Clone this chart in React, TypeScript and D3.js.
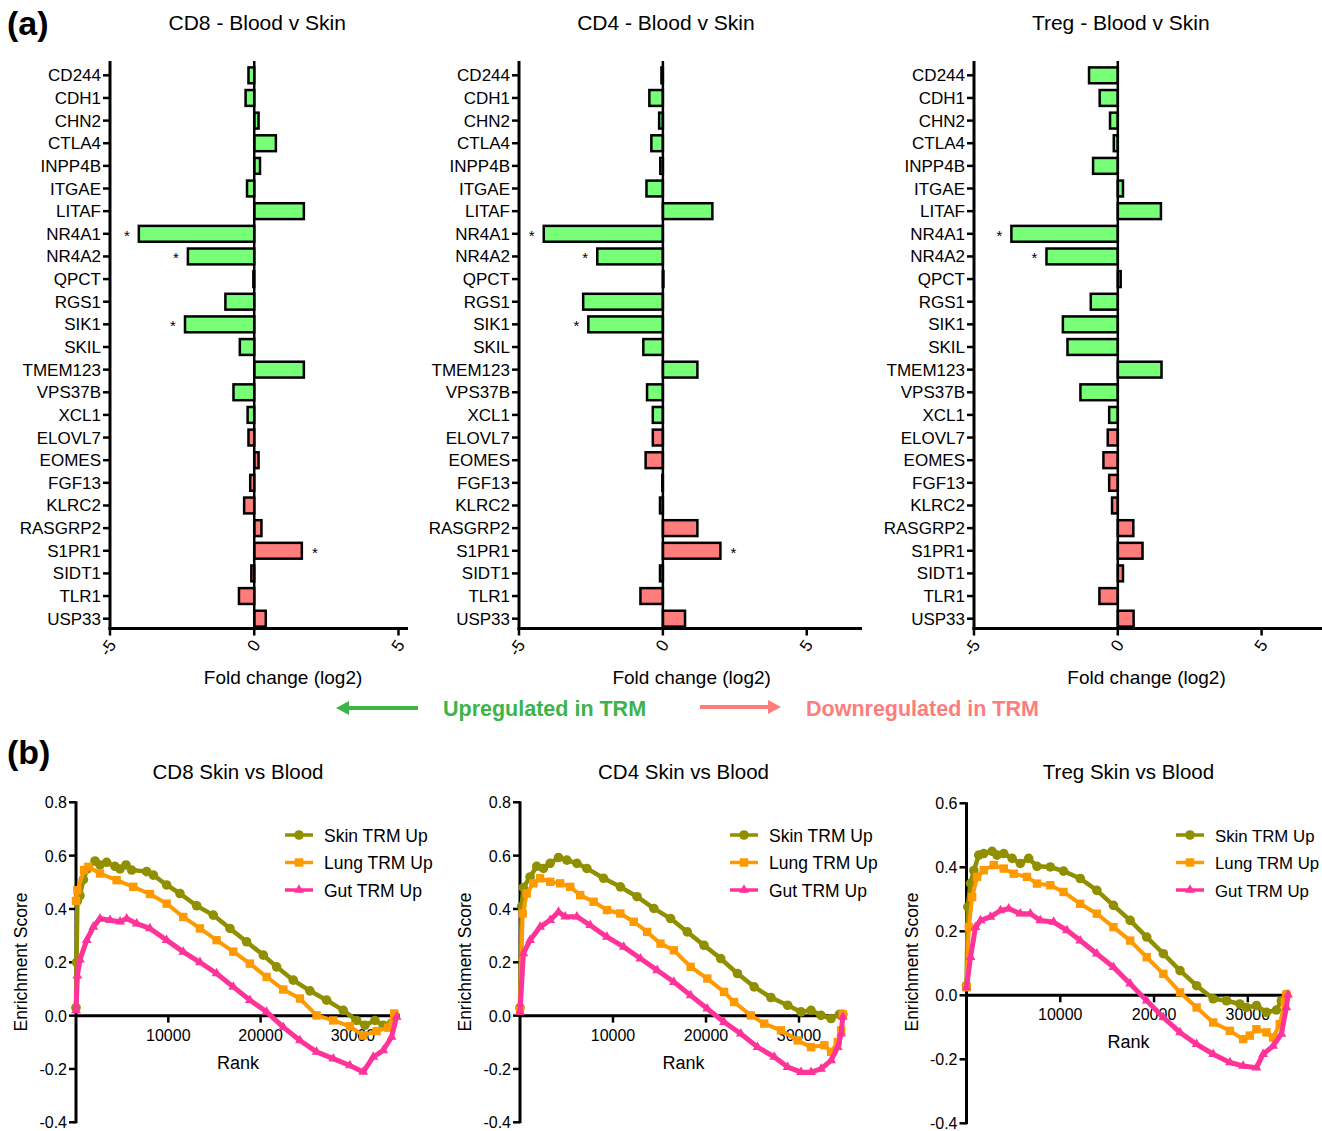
import React from 'react';
import * as d3 from 'd3';

const FONT = "'Liberation Sans', Arial, Helvetica, sans-serif";

// ---------- Panel (a) data ----------
const genes = ['CD244','CDH1','CHN2','CTLA4','INPP4B','ITGAE','LITAF','NR4A1','NR4A2','QPCT','RGS1','SIK1','SKIL','TMEM123','VPS37B','XCL1','ELOVL7','EOMES','FGF13','KLRC2','RASGRP2','S1PR1','SIDT1','TLR1','USP33'];
const upGenes = ['CD244','CDH1','CHN2','CTLA4','INPP4B','ITGAE','LITAF','NR4A1','NR4A2','QPCT','RGS1','SIK1','SKIL','TMEM123','VPS37B','XCL1'];
const cd8FC = [-0.2,-0.3,0.15,0.75,0.2,-0.25,1.72,-4.0,-2.3,-0.03,-1.0,-2.4,-0.5,1.72,-0.72,-0.23,-0.2,0.15,-0.14,-0.35,0.25,1.65,-0.1,-0.53,0.4];
const cd4FC = [-0.05,-0.47,-0.13,-0.4,-0.09,-0.57,1.72,-4.14,-2.28,0.02,-2.77,-2.59,-0.68,1.2,-0.55,-0.35,-0.35,-0.6,-0.02,-0.1,1.2,2.0,-0.1,-0.78,0.77];
const tregFC = [-1.0,-0.63,-0.27,-0.14,-0.86,0.18,1.5,-3.7,-2.48,0.1,-0.94,-1.91,-1.75,1.52,-1.3,-0.3,-0.35,-0.5,-0.3,-0.2,0.54,0.86,0.18,-0.64,0.55];
const cd8Sig = ['NR4A1','NR4A2','SIK1','S1PR1'];
const cd4Sig = ['NR4A1','NR4A2','SIK1','S1PR1'];
const tregSig = ['NR4A1','NR4A2'];
const fcTicks = [-5, 0, 5];
const fcTickLabels = ['-5', '0', '5'];

// ---------- Panel (b) data: [rank, enrichment score] ----------
const cd8Skin: [number, number][] = [[0,0.03],[60,0.2],[150,0.43],[430,0.45],[800,0.51],[1230,0.55],[2060,0.58],[2600,0.565],[3320,0.575],[4220,0.56],[4770,0.55],[5420,0.565],[6030,0.546],[7650,0.54],[8380,0.527],[9820,0.49],[11260,0.458],[13070,0.412],[14870,0.377],[16680,0.327],[18480,0.277],[20290,0.227],[21730,0.183],[23540,0.133],[25340,0.093],[27150,0.058],[28950,0.02],[30400,-0.018],[31300,-0.036],[32380,-0.018],[33290,-0.036],[34190,-0.028],[34550,0.001]];
const cd8Lung: [number, number][] = [[0,0.43],[150,0.47],[870,0.546],[1340,0.558],[2600,0.533],[4400,0.508],[6210,0.483],[8010,0.456],[9820,0.42],[11620,0.37],[13430,0.327],[15230,0.283],[17040,0.24],[18840,0.195],[20650,0.145],[22450,0.098],[24260,0.064],[26060,0.001],[27870,-0.018],[29670,-0.04],[31120,-0.074],[32560,-0.058],[33830,-0.045],[34480,0.008]];
const cd8Gut: [number, number][] = [[0,0.02],[150,0.15],[430,0.21],[1160,0.283],[1880,0.333],[2600,0.364],[3680,0.358],[4770,0.352],[5490,0.364],[6570,0.345],[8010,0.327],[9820,0.283],[11620,0.239],[13430,0.2],[15230,0.158],[17040,0.108],[18840,0.058],[20650,0.014],[22450,-0.043],[24260,-0.093],[26060,-0.136],[27870,-0.161],[29670,-0.187],[31120,-0.211],[32200,-0.155],[33290,-0.13],[34190,-0.08],[34730,-0.005]];

const cd4Skin: [number, number][] = [[0,0.03],[180,0.41],[360,0.48],[1080,0.52],[1800,0.56],[2520,0.552],[3240,0.571],[4140,0.593],[5040,0.583],[6120,0.571],[7190,0.552],[8990,0.515],[10790,0.483],[12590,0.446],[14390,0.402],[16190,0.364],[17990,0.314],[19780,0.264],[21580,0.214],[23380,0.158],[25180,0.108],[26980,0.068],[28780,0.039],[30220,0.014],[31290,0.02],[32370,0.001],[33450,-0.011],[34350,0.005],[34710,0.005]];
const cd4Lung: [number, number][] = [[0,0.02],[290,0.383],[720,0.458],[1440,0.496],[2160,0.515],[3240,0.502],[4320,0.496],[5400,0.483],[6470,0.452],[7910,0.427],[9350,0.396],[10790,0.383],[12230,0.352],[13670,0.314],[15110,0.27],[16550,0.245],[18350,0.183],[20140,0.139],[21940,0.089],[23020,0.051],[24820,0.001],[26260,-0.03],[28060,-0.055],[29860,-0.093],[31290,-0.118],[32730,-0.111],[33450,-0.136],[34170,-0.099],[34530,-0.055],[34710,0.005]];
const cd4Gut: [number, number][] = [[0,0.014],[360,0.233],[1080,0.283],[2160,0.333],[3240,0.358],[4140,0.389],[4860,0.371],[6120,0.371],[7550,0.339],[9350,0.295],[11150,0.258],[12950,0.214],[14750,0.17],[16550,0.126],[18350,0.076],[20140,0.026],[21940,-0.024],[23740,-0.068],[25540,-0.118],[27340,-0.155],[28780,-0.193],[30220,-0.212],[31290,-0.212],[32370,-0.2],[33450,-0.168],[34170,-0.118],[34530,-0.068],[34710,-0.005]];

const tregSkin: [number, number][] = [[0,0.03],[140,0.276],[430,0.35],[780,0.39],[1310,0.438],[1840,0.443],[2730,0.45],[3260,0.438],[3970,0.443],[4860,0.428],[5740,0.412],[6630,0.428],[7520,0.403],[8940,0.401],[10350,0.388],[12130,0.365],[13900,0.328],[15670,0.281],[17450,0.234],[19220,0.182],[20990,0.13],[22770,0.077],[24540,0.03],[26310,-0.011],[27730,-0.017],[29150,-0.027],[29860,-0.038],[30920,-0.032],[31990,-0.053],[33050,-0.046],[33580,-0.017],[34110,0.002]];
const tregLung: [number, number][] = [[0,0.025],[250,0.213],[600,0.307],[1130,0.37],[1840,0.391],[2910,0.407],[3970,0.396],[5040,0.38],[6450,0.37],[7520,0.349],[8940,0.344],[10350,0.323],[12130,0.286],[13900,0.255],[15670,0.213],[17450,0.171],[19220,0.119],[20990,0.067],[22770,0.009],[24540,-0.038],[26310,-0.085],[28090,-0.111],[29500,-0.137],[30210,-0.126],[30920,-0.106],[31990,-0.116],[32700,-0.132],[33410,-0.09],[33940,-0.022],[34110,0.002]];
const tregGut: [number, number][] = [[0,0.025],[430,0.119],[960,0.213],[1490,0.234],[2550,0.245],[3620,0.265],[4500,0.271],[5740,0.255],[6810,0.255],[7870,0.234],[9290,0.229],[10710,0.203],[12130,0.171],[13900,0.13],[15670,0.088],[17450,0.036],[19220,-0.017],[20990,-0.069],[22770,-0.116],[24540,-0.153],[26310,-0.184],[28090,-0.21],[29500,-0.221],[30920,-0.226],[31630,-0.184],[32700,-0.158],[33580,-0.121],[34110,-0.038],[34290,0.002]];

const seriesNames = ['Skin TRM Up', 'Lung TRM Up', 'Gut TRM Up'];
const rankTicks = [10000, 20000, 30000];
const esTicksA = [-0.4, -0.2, 0, 0.2, 0.4, 0.6, 0.8];
const esTicksB = [-0.4, -0.2, 0, 0.2, 0.4, 0.6];

// ---------- styles ----------
const GREEN = '#78ff78';
const RED = '#ff7c7c';
const GREEN_TXT = '#3cb44a';
const RED_TXT = '#ff7c7c';
const OLIVE = '#8f8f00';
const ORANGE = '#ff9900';
const PINK = '#ff3399';
const COLORS = [OLIVE, ORANGE, PINK];
const SHAPES = ['circle', 'square', 'triangle'];
const LINE_W = [4.5, 4, 5];

function Marker({ shape, x, y, color }: { shape: string; x: number; y: number; color: string }) {
  if (shape === 'circle') return <circle cx={x} cy={y} r={4.8} fill={color} />;
  if (shape === 'square') return <rect x={x - 4.2} y={y - 4.2} width={8.4} height={8.4} fill={color} />;
  const p = d3.symbol().type(d3.symbolTriangle).size(42)();
  return <path d={p || ''} transform={`translate(${x},${y})`} fill={color} />;
}

function BarPanel({ title, values, sig, range, domain }: { title: string; values: number[]; sig: string[]; range: [number, number]; domain: [number, number] }) {
  const x = d3.scaleLinear().domain(domain).range(range);
  const y = d3.scaleBand<string>().domain(genes).range([64, 630]).paddingInner(0.3).paddingOuter(0.15);
  const ax = x(-5);
  const axisY = 628.5;
  const top = 61;
  return (
    <g fontFamily={FONT}>
      <text x={x(0) + 3} y={30} textAnchor="middle" fontSize={21}>{title}</text>
      {genes.map((g, i) => {
        const v = values[i];
        const yy = y(g)!;
        const c = yy + y.bandwidth() / 2;
        return (
          <g key={g}>
            <rect x={x(Math.min(0, v))} y={yy} width={Math.abs(x(v) - x(0))} height={y.bandwidth()}
              fill={upGenes.includes(g) ? GREEN : RED} stroke="#000" strokeWidth={2.5} />
            <line x1={ax - 7} x2={ax} y1={c} y2={c} stroke="#000" strokeWidth={2.5} />
            <text x={ax - 9} y={c + 6} textAnchor="end" fontSize={17}>{g}</text>
            {sig.includes(g) && (
              <text x={v < 0 ? x(v) - 12 : x(v) + 13} y={c + 7} textAnchor="middle" fontSize={15}>*</text>
            )}
          </g>
        );
      })}
      <line x1={x(0)} x2={x(0)} y1={top} y2={axisY} stroke="#000" strokeWidth={2.5} />
      <line x1={ax} x2={ax} y1={top} y2={axisY + 1.5} stroke="#000" strokeWidth={3} />
      <line x1={ax - 1.5} x2={range[1]} y1={axisY} y2={axisY} stroke="#000" strokeWidth={3} />
      {fcTicks.map((t, i) => (
        <g key={t}>
          <line x1={x(t)} x2={x(t)} y1={axisY} y2={axisY + 7} stroke="#000" strokeWidth={2.5} />
          <text transform={`translate(${x(t) + 2},${axisY + 13}) rotate(-55)`} textAnchor="end" dy="0.35em" fontSize={17}>{fcTickLabels[i]}</text>
        </g>
      ))}
      <text x={x(1)} y={684} textAnchor="middle" fontSize={19}>Fold change (log2)</text>
    </g>
  );
}

function GseaPanel({ title, xr, xMax, yr, yDomain, yTicks, series, legendX, legendFont }: {
  title: string; xr: [number, number]; xMax: number; yr: [number, number]; yDomain: [number, number]; yTicks: number[];
  series: [number, number][][]; legendX: number; legendFont: number;
}) {
  const x = d3.scaleLinear().domain([0, xMax]).range(xr);
  const y = d3.scaleLinear().domain(yDomain).range(yr);
  const y0 = y(0);
  const line = d3.line<[number, number]>().x(d => x(d[0])).y(d => y(d[1]));
  const cx = (xr[0] + xr[1]) / 2;
  return (
    <g fontFamily={FONT}>
      <text x={cx} y={779} textAnchor="middle" fontSize={20.5}>{title}</text>
      {/* y axis */}
      <line x1={xr[0]} x2={xr[0]} y1={y(yDomain[1]) - 1} y2={y(yDomain[0]) + 1} stroke="#000" strokeWidth={3} />
      {yTicks.map(t => (
        <g key={t}>
          <line x1={xr[0] - 7} x2={xr[0]} y1={y(t)} y2={y(t)} stroke="#000" strokeWidth={2.5} />
          <text x={xr[0] - 9} y={y(t) + 6} textAnchor="end" fontSize={16}>{t.toFixed(1)}</text>
        </g>
      ))}
      {/* x axis */}
      <line x1={xr[0]} x2={xr[1]} y1={y0} y2={y0} stroke="#000" strokeWidth={3} />
      {rankTicks.map(t => (
        <g key={t}>
          <line x1={x(t)} x2={x(t)} y1={y0} y2={y0 + 7} stroke="#000" strokeWidth={2.5} />
          <text x={x(t)} y={y0 + 25} textAnchor="middle" fontSize={16}>{t}</text>
        </g>
      ))}
      <text x={cx} y={y0 + 53} textAnchor="middle" fontSize={18}>Rank</text>
      <text transform={`translate(${xr[0] - 49},962) rotate(-90)`} textAnchor="middle" fontSize={17.5}>Enrichment Score</text>
      {/* curves */}
      {series.map((s, i) => (
        <g key={i}>
          <path d={line(s) || ''} fill="none" stroke={COLORS[i]} strokeWidth={LINE_W[i]} strokeLinejoin="round" />
          {s.map((d, j) => <Marker key={j} shape={SHAPES[i]} x={x(d[0])} y={y(d[1])} color={COLORS[i]} />)}
        </g>
      ))}
      {/* legend */}
      {seriesNames.map((n, i) => {
        const ly = 835 + i * 27.5;
        return (
          <g key={n}>
            <line x1={legendX} x2={legendX + 28} y1={ly} y2={ly} stroke={COLORS[i]} strokeWidth={3.5} />
            <Marker shape={SHAPES[i]} x={legendX + 14} y={ly} color={COLORS[i]} />
            <text x={legendX + 39} y={ly + 6.5} fontSize={legendFont}>{n}</text>
          </g>
        );
      })}
    </g>
  );
}

export default function App() {
  return (
    <div style={{ position: 'absolute', left: 0, top: 0 }}>
      <svg width={1322} height={1131} style={{ display: 'block', background: '#fff' }} overflow="hidden">
        <rect width={1322} height={1131} fill="#fff" />
        <text x={7} y={35} fontFamily={FONT} fontSize={34} fontWeight="bold">(a)</text>
        <text x={7} y={764} fontFamily={FONT} fontSize={34} fontWeight="bold">(b)</text>

        <BarPanel title="CD8 - Blood v Skin" values={cd8FC} sig={cd8Sig} range={[110, 408]} domain={[-5, 5.33]} />
        <BarPanel title="CD4 - Blood v Skin" values={cd4FC} sig={cd4Sig} range={[519, 862]} domain={[-5, 6.92]} />
        <BarPanel title="Treg - Blood v Skin" values={tregFC} sig={tregSig} range={[974, 1322]} domain={[-5, 7.1]} />

        {/* direction arrows */}
        <g fontFamily={FONT} fontWeight="bold" fontSize={21.5}>
          <line x1={418} x2={346} y1={708} y2={708} stroke={GREEN_TXT} strokeWidth={4} />
          <polygon points="336,708 349,701 349,715" fill={GREEN_TXT} />
          <text x={443} y={716} fill={GREEN_TXT}>Upregulated in TRM</text>
          <line x1={700} x2={771} y1={707} y2={707} stroke={RED_TXT} strokeWidth={4} />
          <polygon points="781,707 768,700 768,714" fill={RED_TXT} />
          <text x={806} y={716} fill={RED_TXT}>Downregulated in TRM</text>
        </g>

        <GseaPanel title="CD8 Skin vs Blood" xr={[76, 400]} xMax={35100} yr={[1122.3, 802.3]} yDomain={[-0.4, 0.8]}
          yTicks={esTicksA} series={[cd8Skin, cd8Lung, cd8Gut]} legendX={285} legendFont={17.5} />
        <GseaPanel title="CD4 Skin vs Blood" xr={[520, 847]} xMax={35160} yr={[1122.3, 802.3]} yDomain={[-0.4, 0.8]}
          yTicks={esTicksA} series={[cd4Skin, cd4Lung, cd4Gut]} legendX={730} legendFont={17.5} />
        <GseaPanel title="Treg Skin vs Blood" xr={[966.5, 1290.5]} xMax={34550} yr={[1123.3, 803.3]} yDomain={[-0.4, 0.6]}
          yTicks={esTicksB} series={[tregSkin, tregLung, tregGut]} legendX={1176} legendFont={16.8} />
      </svg>
    </div>
  );
}
